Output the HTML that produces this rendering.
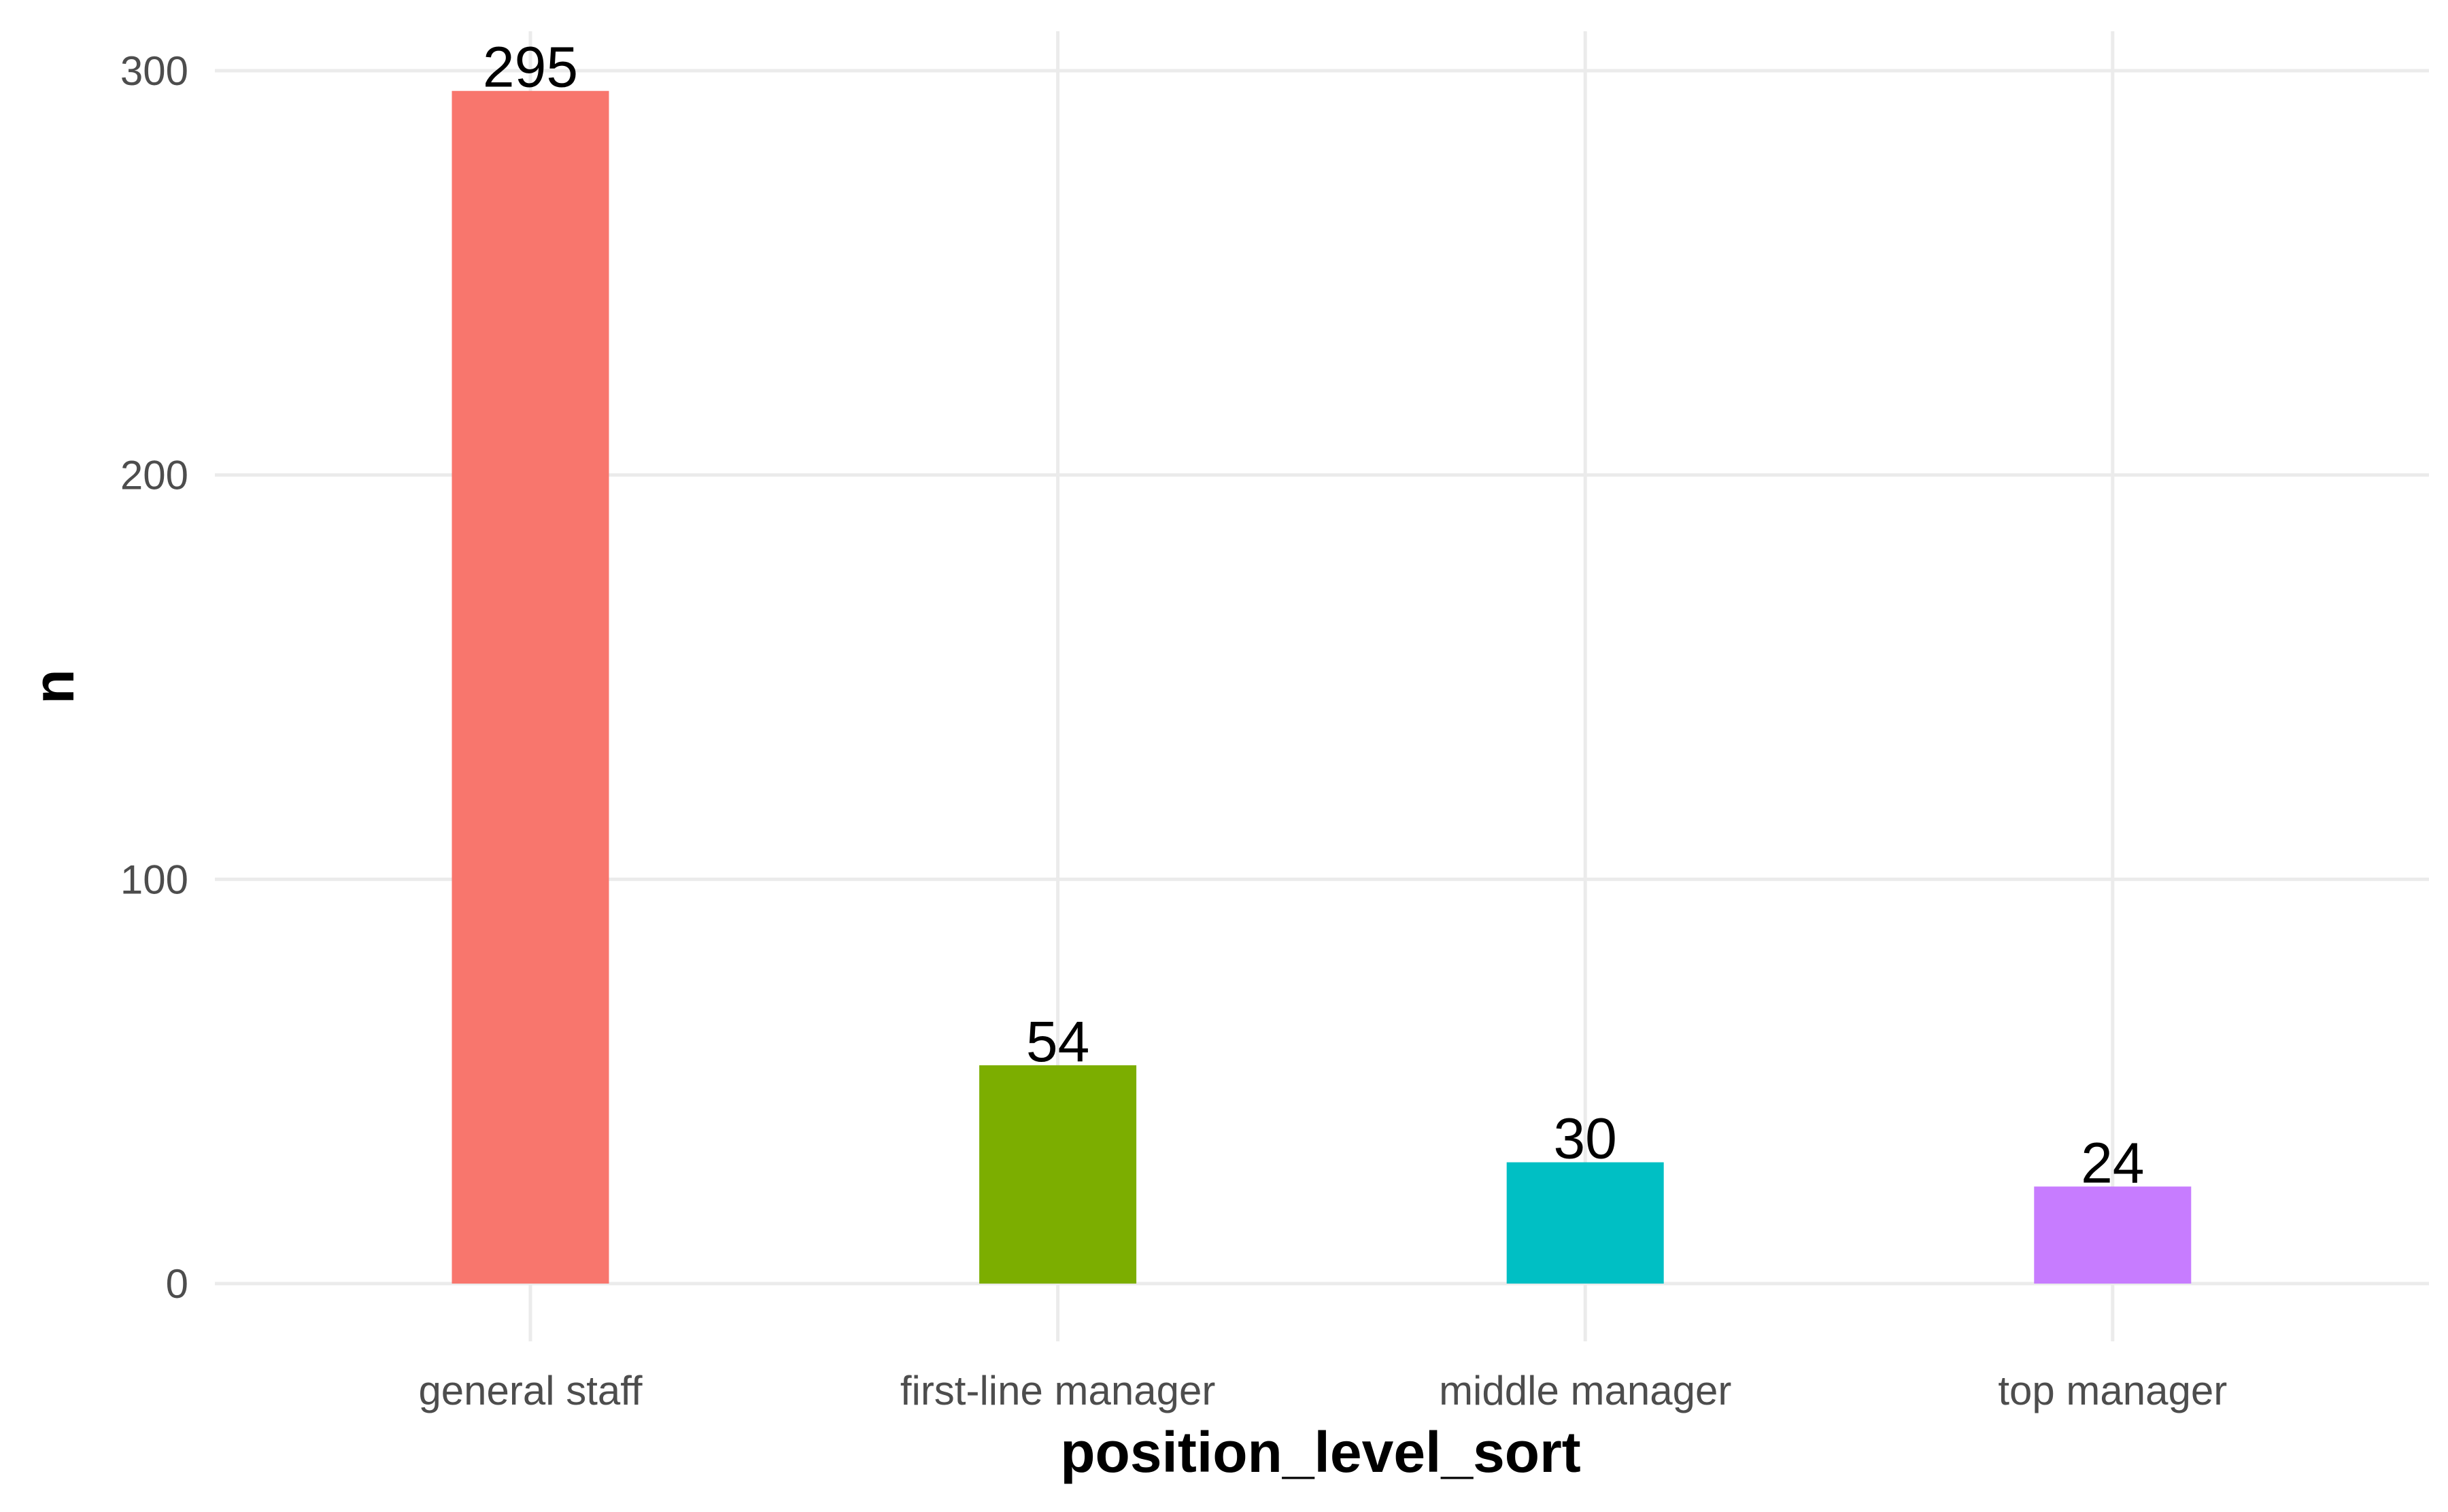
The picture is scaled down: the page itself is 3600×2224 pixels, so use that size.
<!DOCTYPE html>
<html><head><meta charset="utf-8">
<style>html,body{margin:0;padding:0;background:#fff;}svg{display:block;}</style>
</head><body>
<svg id="chart" width="3600" height="2224" xmlns="http://www.w3.org/2000/svg" font-family="Liberation Sans, sans-serif">
<rect width="3600" height="2224" fill="#fff"/>
<g id="grid"></g>
<g id="bars"></g>
<g id="labels"></g>
<g id="yticks"></g>
<g id="xticks"></g>
<text x="1942" y="2165" font-size="84" font-weight="bold" text-anchor="middle" fill="#000">position_level_sort</text>
<text transform="translate(108,1010) rotate(-90)" font-size="84" font-weight="bold" text-anchor="middle" fill="#000">n</text>
</svg>
<script>
const categories = ["general staff","first-line manager","middle manager","top manager"];
const values = [295,54,30,24];
const colors = ["#F8766D","#7CAE00","#00BFC4","#C77CFF"];
const yTicks = [0,100,200,300];
const NS="http://www.w3.org/2000/svg";
const plotL=316, plotR=3572, plotT=46, plotB=1973;
const y0=1888, yPer=(1888-104)/300;
function yScale(v){return y0 - v*yPer;}
const bandStart=780, bandStep=775.6, barW=231;
function xScale(i){return bandStart + i*bandStep;}
function mk(tag,attrs,parent){const e=document.createElementNS(NS,tag);for(const k in attrs)e.setAttribute(k,attrs[k]);parent.appendChild(e);return e;}
const grid=document.getElementById('grid');
yTicks.forEach(t=>{
  const l=mk('line',{x1:plotL,x2:plotR,y1:yScale(t),y2:yScale(t),stroke:'#EBEBEB','stroke-width':5},grid);
  
  
  const tx=mk('text',{x:277,y:yScale(t)+21,'font-size':60,'text-anchor':'end',fill:'#4D4D4D'},document.getElementById('yticks'));
  tx.textContent=t;
  
  
});
categories.forEach((c,i)=>{
  const x=xScale(i);
  const l=mk('line',{x1:x,x2:x,y1:plotT,y2:plotB,stroke:'#EBEBEB','stroke-width':5},grid);
  
  
  const r=mk('rect',{x:x-barW/2,y:yScale(values[i]),width:barW,height:yScale(0)-yScale(values[i]),fill:colors[i]},document.getElementById('bars'));
  
  
  const v=mk('text',{x:x,y:yScale(values[i])-6,'font-size':84,'text-anchor':'middle',fill:'#000'},document.getElementById('labels'));
  v.textContent=values[i];
  
  
  const xt=mk('text',{x:x,y:2066,'font-size':60,'text-anchor':'middle',fill:'#4D4D4D'},document.getElementById('xticks'));
  xt.textContent=c;
  
  
});
</script>
</body></html>
